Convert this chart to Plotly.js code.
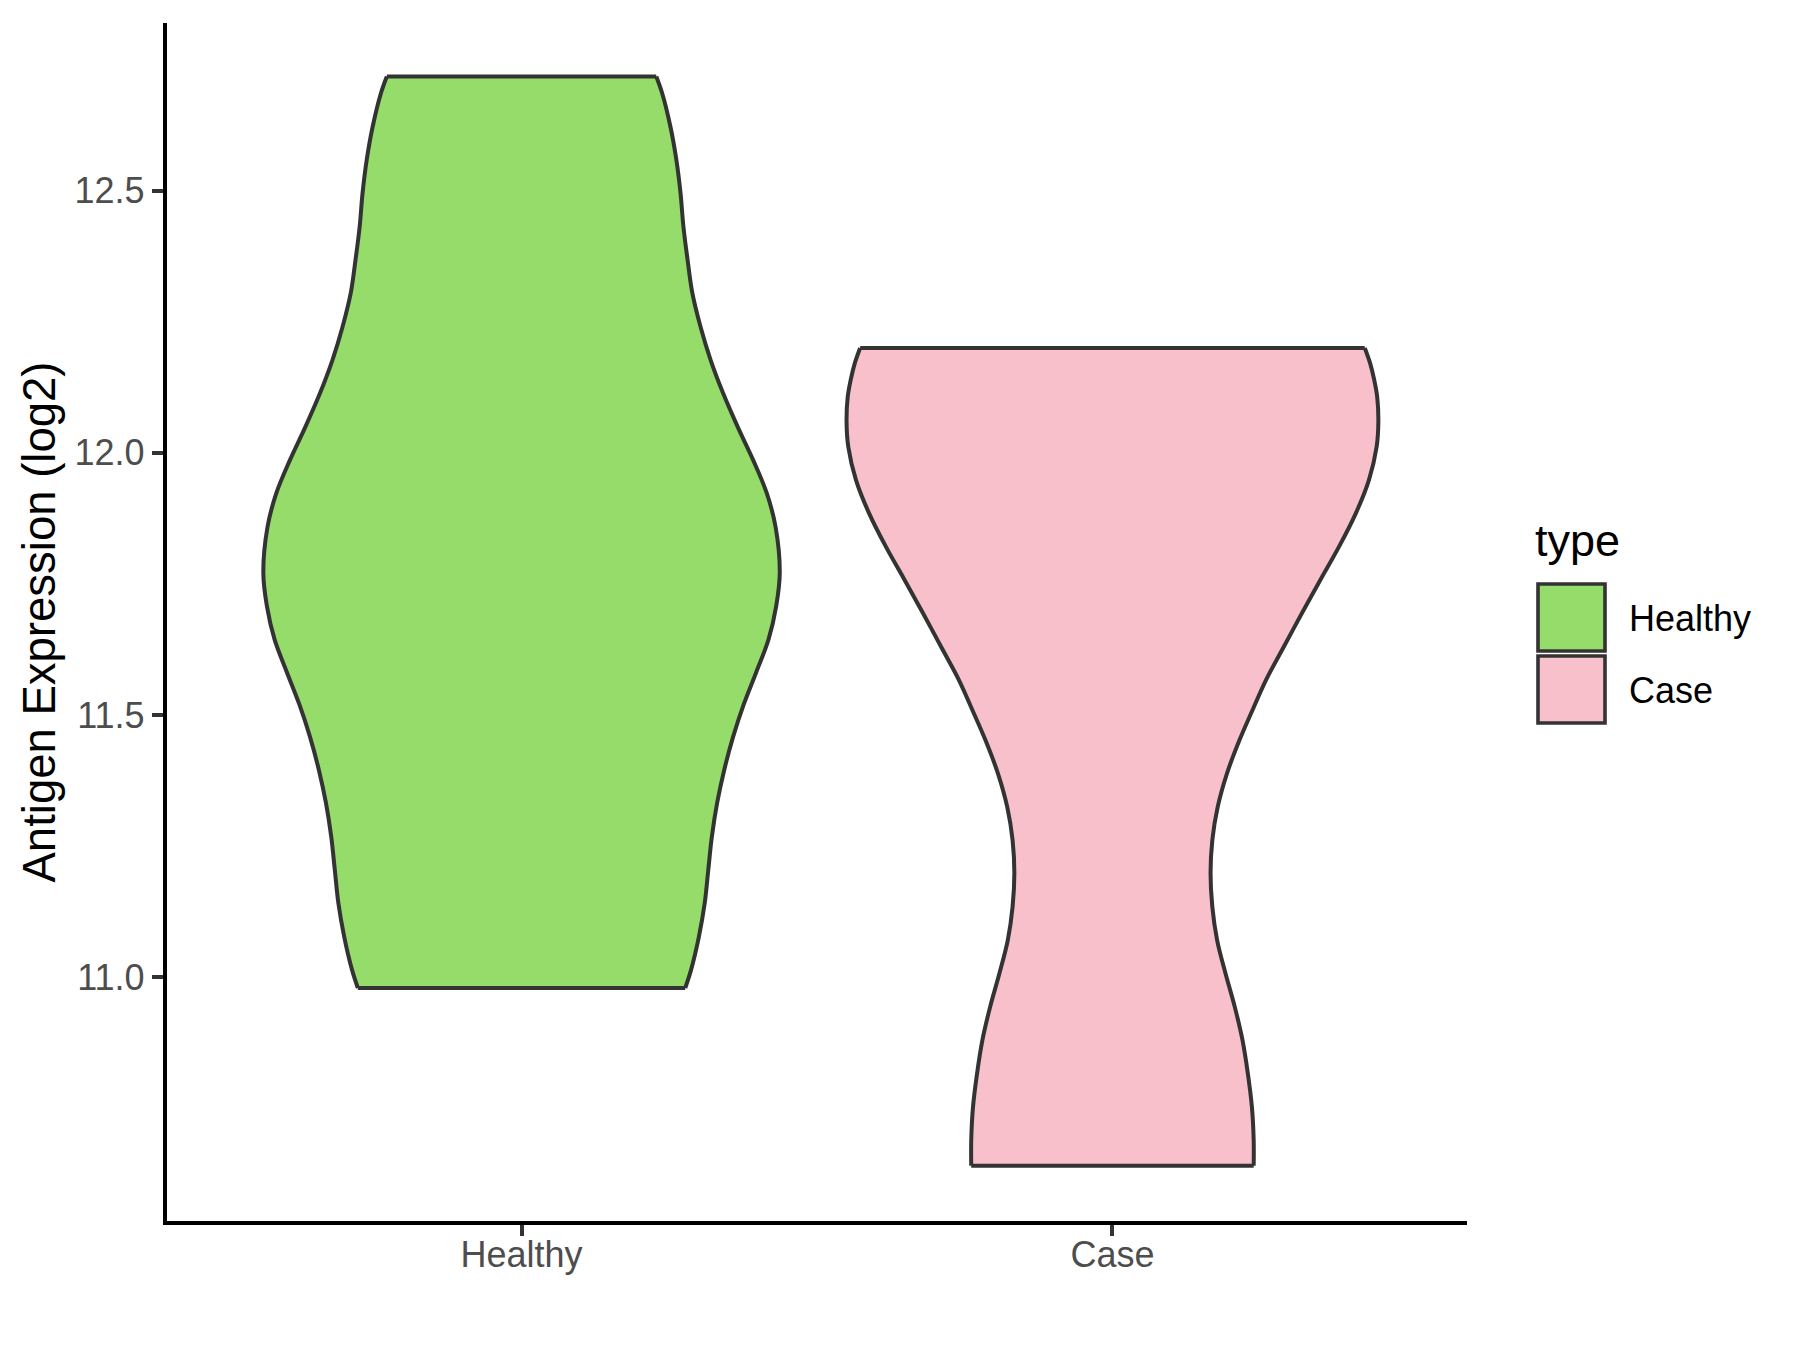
<!DOCTYPE html>
<html>
<head>
<meta charset="utf-8">
<script src="https://cdn.plot.ly/plotly-3.0.1.min.js"></script>
<style>
  html, body { margin: 0; padding: 0; background: #ffffff; }
  #chart { width: 1800px; height: 1350px; }
</style>
</head>
<body>
<div id="chart"></div>
<script>
// ---- data ----
const categories = ["Healthy", "Case"];
const fillColors = ["#95DC6A", "#F7C0CB"];

// Healthy violin: expression values (log2) and half-width of the density profile (x units)
const healthyY = [12.718, 12.686, 12.622, 12.559, 12.496, 12.431, 12.368, 12.305, 12.240, 12.177,
                  12.114, 12.049, 11.986, 11.923, 11.858, 11.771, 11.708, 11.644, 11.581, 11.520,
                  11.458, 11.395, 11.332, 11.267, 11.204, 11.141, 11.076, 11.014, 10.979];
const healthyW = [0.228, 0.238, 0.252, 0.262, 0.269, 0.274, 0.281, 0.289, 0.303, 0.320,
                  0.341, 0.366, 0.392, 0.415, 0.430, 0.437, 0.431, 0.418, 0.397, 0.376,
                  0.358, 0.343, 0.331, 0.322, 0.316, 0.310, 0.300, 0.287, 0.277];

// Case violin
const caseY = [12.200, 12.171, 12.139, 12.107, 12.059, 12.011, 11.948, 11.885, 11.820, 11.758,
               11.695, 11.630, 11.567, 11.504, 11.452, 11.389, 11.324, 11.261, 11.198, 11.134,
               11.071, 11.008, 10.943, 10.880, 10.817, 10.752, 10.689, 10.640];
const caseW = [0.427, 0.436, 0.443, 0.448, 0.450, 0.447, 0.434, 0.412, 0.383, 0.352,
               0.321, 0.290, 0.260, 0.235, 0.215, 0.194, 0.178, 0.169, 0.166, 0.169,
               0.177, 0.191, 0.207, 0.220, 0.229, 0.236, 0.239, 0.239];

const yTicks = [11.0, 11.5, 12.0, 12.5];
const yTickText = ["11.0", "11.5", "12.0", "12.5"];
const yTitle = "Antigen Expression (log2)";
const legendTitle = "type";

// ---- build violin traces: smooth sides, flat trimmed ends ----
const edgeColor = "#333333";
const edgeWidth = 4;
function violinTraces(center, ys, ws, color, name) {
  const left = ys.map((y, i) => center - ws[i]);
  const right = ys.map((y, i) => center + ws[i]);
  const n = ys.length - 1;
  return [
    { type: "scatter", mode: "lines", x: left, y: ys, name: name,
      line: { color: edgeColor, width: edgeWidth, shape: "spline", smoothing: 1 },
      hoverinfo: "skip", showlegend: false },
    { type: "scatter", mode: "lines", x: right, y: ys, name: name,
      fill: "tonextx", fillcolor: color,
      line: { color: edgeColor, width: edgeWidth, shape: "spline", smoothing: 1 },
      hoverinfo: "skip", showlegend: false },
    { type: "scatter", mode: "lines", x: [left[0], right[0]], y: [ys[0], ys[0]],
      line: { color: edgeColor, width: edgeWidth }, hoverinfo: "skip", showlegend: false },
    { type: "scatter", mode: "lines", x: [left[n], right[n]], y: [ys[n], ys[n]],
      line: { color: edgeColor, width: edgeWidth }, hoverinfo: "skip", showlegend: false }
  ];
}

const traces = [].concat(
  violinTraces(1, healthyY, healthyW, fillColors[0], categories[0]),
  violinTraces(2, caseY, caseW, fillColors[1], categories[1])
);

// ---- layout geometry (pixels) ----
const W = 1800, H = 1350;
const mL = 167, mR = 333, mT = 23, mB = 129;
const pw = W - mL - mR, ph = H - mT - mB;
const px = v => (v - mL) / pw;
const py = v => (H - mB - v) / ph;

const font = "Liberation Sans, Arial, sans-serif";
const shapes = [];
const annotations = [];

// legend (drawn manually to match ggplot keys)
const keyTops = [584, 656];
categories.forEach((c, i) => {
  shapes.push({
    type: "rect", xref: "paper", yref: "paper",
    x0: px(1538), x1: px(1605), y0: py(keyTops[i]), y1: py(keyTops[i] + 67),
    fillcolor: fillColors[i], line: { color: edgeColor, width: 3.6 }
  });
  annotations.push({
    xref: "paper", yref: "paper", x: px(1627), y: py(keyTops[i] + 34),
    xanchor: "left", yanchor: "middle", showarrow: false, text: c,
    font: { family: font, size: 36, color: "#000000" }
  });
});
annotations.push({
  xref: "paper", yref: "paper", x: px(1533), y: py(540),
  xanchor: "left", yanchor: "middle", showarrow: false, text: legendTitle,
  font: { family: font, size: 45, color: "#000000" }
});

const layout = {
  width: W, height: H,
  margin: { l: mL, r: mR, t: mT, b: mB, pad: 0 },
  paper_bgcolor: "#ffffff", plot_bgcolor: "#ffffff",
  showlegend: false,
  font: { family: font },
  xaxis: {
    range: [0.4, 2.6], tickvals: [1, 2], ticktext: categories,
    showgrid: false, zeroline: false,
    showline: true, linecolor: "#000000", linewidth: 4.2,
    ticks: "outside", ticklen: 11, tickwidth: 4, tickcolor: "#333333",
    tickfont: { family: font, size: 36, color: "#4D4D4D" },
    ticklabelstandoff: -12
  },
  yaxis: {
    range: [10.5345, 12.82], tickvals: yTicks, ticktext: yTickText,
    showgrid: false, zeroline: false,
    showline: true, linecolor: "#000000", linewidth: 4.2,
    ticks: "outside", ticklen: 11, tickwidth: 4, tickcolor: "#333333",
    tickfont: { family: font, size: 36, color: "#4D4D4D" },
    ticklabelstandoff: 0,
    title: { text: yTitle, font: { family: font, size: 45.5, color: "#000000" }, standoff: 6 }
  },
  shapes: shapes,
  annotations: annotations
};

Plotly.newPlot("chart", traces, layout, { staticPlot: true, displayModeBar: false });
</script>
</body>
</html>
